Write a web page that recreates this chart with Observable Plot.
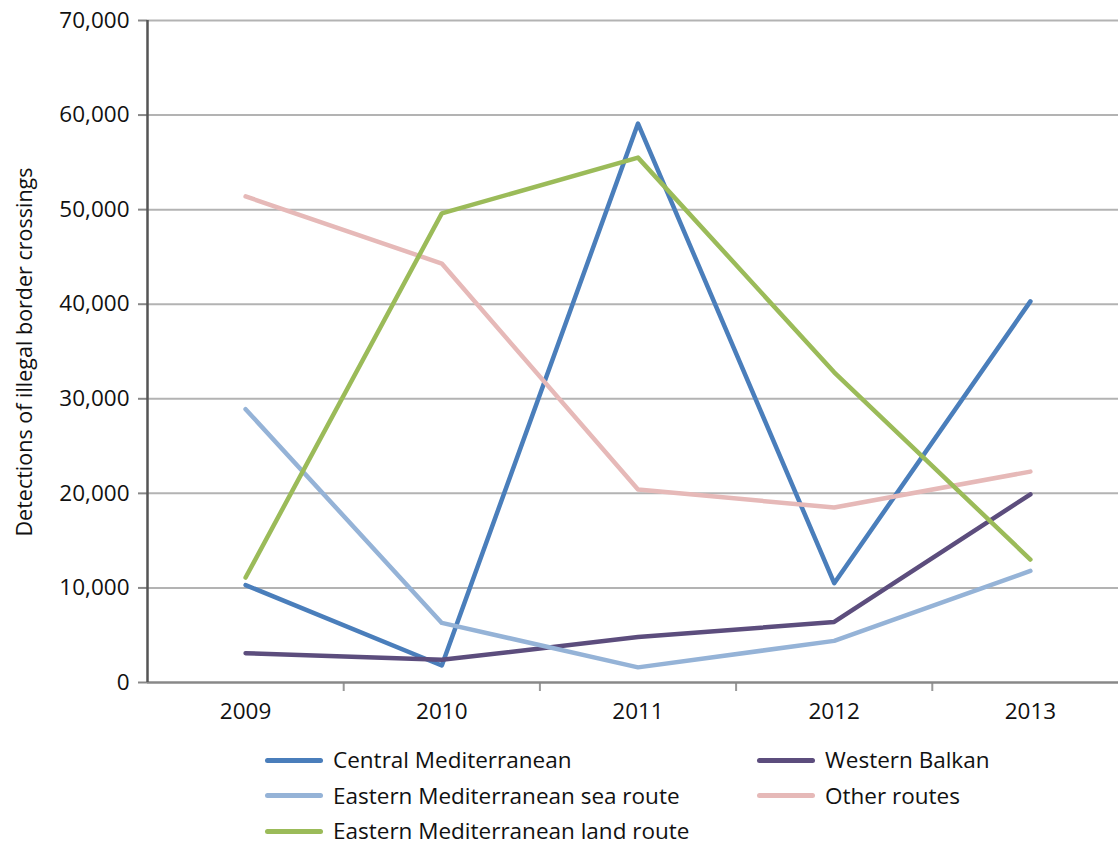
<!DOCTYPE html>
<html>
<head>
<meta charset="utf-8">
<script src="https://cdn.jsdelivr.net/npm/d3@7"></script>
<script src="https://cdn.jsdelivr.net/npm/@observablehq/plot@0.6"></script>
<style>
  html, body { margin: 0; padding: 0; background: #fff; overflow: hidden; }
  #chart { position: relative; width: 1118px; height: 846px; font-family: "Open Sans", sans-serif; }
  #legend { position: absolute; left: 0; top: 744px; width: 1118px; }
  .item { position: absolute; display: flex; align-items: center; font-size: 22.5px; line-height: 32px; color: #111; white-space: nowrap; }
  .sw { width: 58px; height: 5px; border-radius: 3px; margin-right: 10px; }
  #ytitle { position: absolute; left: 23px; top: 352px; transform: translate(-50%, -50%) rotate(-90deg); font-size: 21.5px; color: #111; white-space: nowrap; }
</style>
</head>
<body>
<div id="chart"><div id="plot"></div><div id="ytitle"></div><div id="legend"></div></div>
<script>
const years = [2009, 2010, 2011, 2012, 2013];
const seriesNames = ["Central Mediterranean", "Western Balkan", "Eastern Mediterranean sea route", "Other routes", "Eastern Mediterranean land route"];
const centralMed = [10300, 1800, 59100, 10500, 40300];
const westernBalkan = [3100, 2400, 4800, 6400, 19900];
const eastMedSea = [28900, 6300, 1600, 4400, 11800];
const otherRoutes = [51400, 44300, 20400, 18500, 22300];
const eastMedLand = [11100, 49600, 55500, 32800, 13000];
const seriesColors = ["#4A7EBB", "#5C4D7D", "#95B3D7", "#E6B9B8", "#9BBB59"];
const yTicks = [0, 10000, 20000, 30000, 40000, 50000, 60000, 70000];
const yTitle = "Detections of illegal border crossings";

const seriesValues = [centralMed, westernBalkan, eastMedSea, otherRoutes, eastMedLand];
const data = [];
seriesNames.forEach((name, i) => years.forEach((yr, j) => data.push({series: name, year: yr, value: seriesValues[i][j]})));
const boundaries = years.map(y => y + 0.5);

const plot = Plot.plot({
  width: 1118,
  height: 720,
  marginTop: 20,
  marginBottom: 38,
  marginLeft: 147,
  marginRight: -10,
  style: {fontFamily: "Open Sans, sans-serif", fontSize: "22.5px", color: "#111", background: "#fff", overflow: "visible"},
  x: {domain: [years[0] - 0.5, years[years.length - 1] + 0.5]},
  y: {domain: [0, 70000]},
  color: {domain: seriesNames, range: seriesColors},
  marks: [
    Plot.ruleY(yTicks.slice(1), {stroke: "#b3b3b3", strokeWidth: 2}),
    Plot.axisY({ticks: yTicks, tickFormat: d3.format(","), tickSize: 9, tickPadding: 9, stroke: "#888", strokeWidth: 2, label: null}),
    Plot.axisX({ticks: years, tickFormat: d => String(d), tickSize: 0, tickPadding: 21, label: null}),
    Plot.ruleX(boundaries, {x: d => d, y1: 0, y2: 0, insetBottom: -9, stroke: "#999", strokeWidth: 2}),
    Plot.ruleY([0], {stroke: "#888", strokeWidth: 2.5}),
    Plot.ruleX([years[0] - 0.5], {stroke: "#555", strokeWidth: 2.5}),
    Plot.lineY(data, {x: "year", y: "value", z: "series", stroke: "series", strokeWidth: 4.5, strokeLinejoin: "round", strokeLinecap: "round"})
  ]
});
document.getElementById("plot").appendChild(plot);

document.getElementById("ytitle").textContent = yTitle;

const legendOrder = ["Central Mediterranean", "Eastern Mediterranean sea route", "Eastern Mediterranean land route", "Western Balkan", "Other routes"];
const lg = document.getElementById("legend");
legendOrder.forEach((name, i) => {
  const col = i < 3 ? 0 : 1;
  const row = i < 3 ? i : i - 3;
  const el = document.createElement("div");
  el.className = "item";
  el.style.left = (col === 0 ? 265 : 757) + "px";
  el.style.top = (row * 35.5) + "px";
  const sw = document.createElement("div");
  sw.className = "sw";
  sw.style.background = seriesColors[seriesNames.indexOf(name)];
  const tx = document.createElement("span");
  tx.textContent = name;
  el.appendChild(sw); el.appendChild(tx);
  lg.appendChild(el);
});
</script>
</body>
</html>
